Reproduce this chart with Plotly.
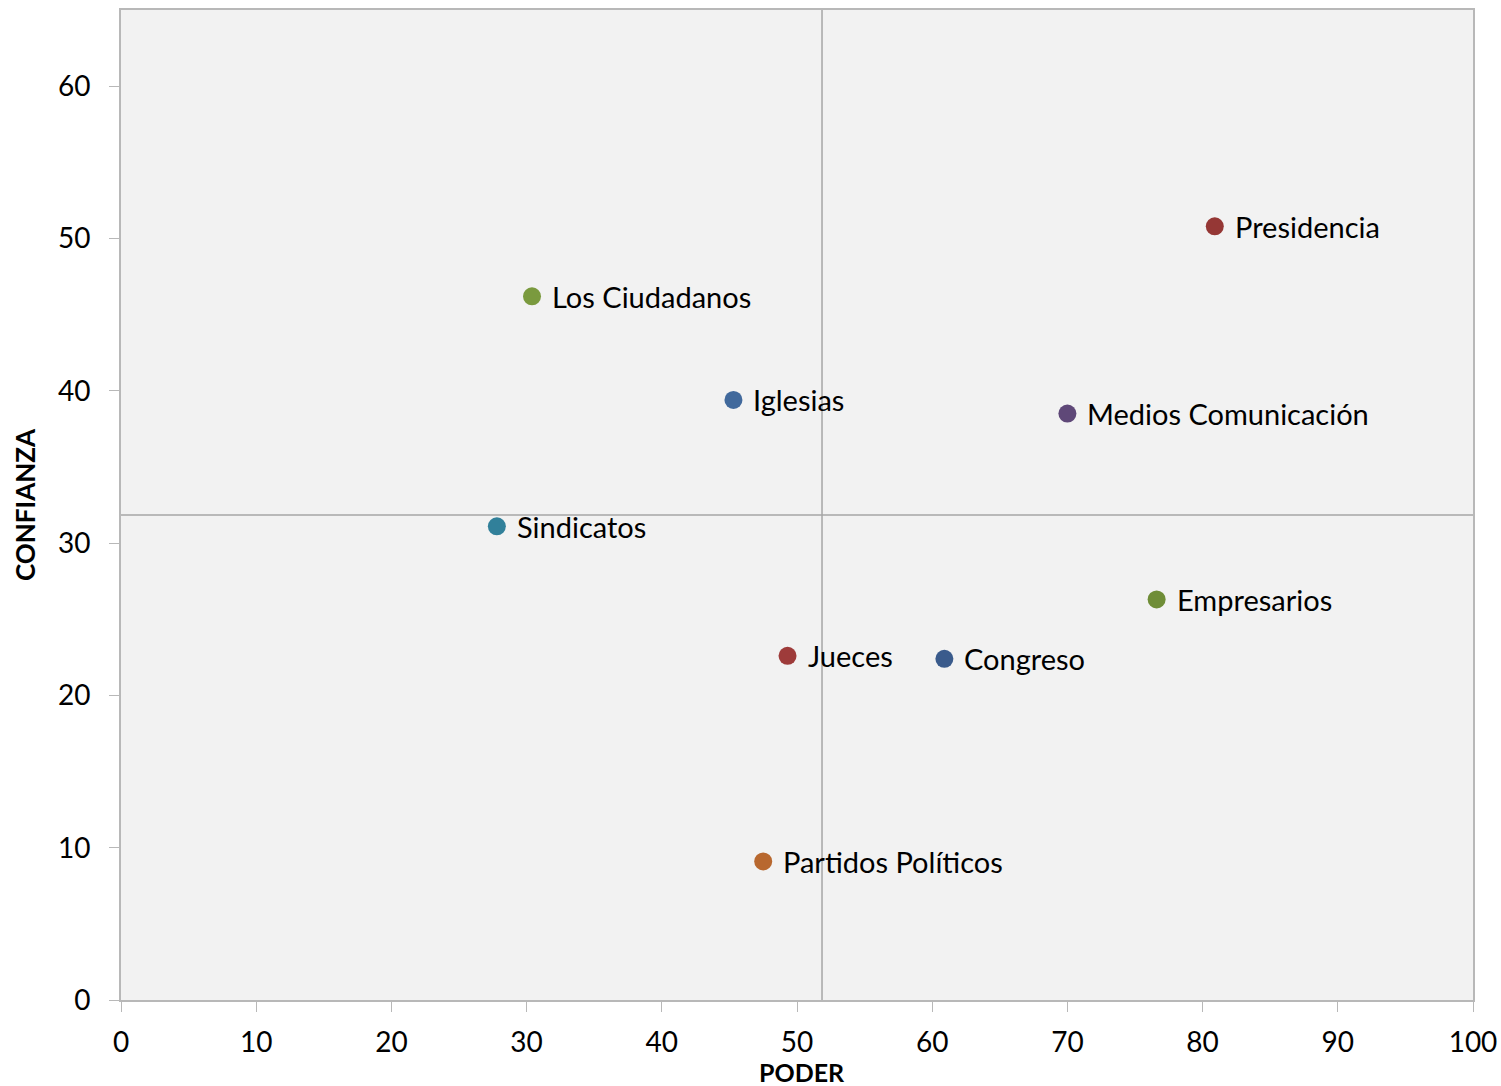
import plotly.graph_objects as go

names = ["Presidencia", "Los Ciudadanos", "Iglesias", "Medios Comunicación", "Sindicatos",
         "Empresarios", "Jueces", "Congreso", "Partidos Políticos"]
poder = [80.9, 30.4, 45.3, 70.0, 27.8, 76.6, 49.3, 60.9, 47.5]
confianza = [50.8, 46.2, 39.4, 38.5, 31.1, 26.3, 22.6, 22.4, 9.1]
colors = ["#953735", "#7A9A3E", "#41699C", "#5F4878", "#31809A",
          "#6F8D37", "#9E3B3A", "#3A5B8C", "#B8682F"]

mean_poder = 51.85
mean_confianza = 31.85

x_ticks = list(range(0, 101, 10))
y_ticks = list(range(0, 61, 10))

FONT = "Lato"

fig = go.Figure()
fig.add_trace(go.Scatter(
    x=poder, y=confianza, mode="markers",
    marker=dict(size=18, color=colors, line=dict(width=0)),
    cliponaxis=False, showlegend=False, hoverinfo="skip",
))

for n, px, py in zip(names, poder, confianza):
    fig.add_annotation(x=px, y=py, xref="x", yref="y", text=n, showarrow=False,
                       xanchor="left", yanchor="middle", xshift=18, yshift=0,
                       font=dict(family=FONT, size=29, color="#000000"))

# x-axis title placed as annotation below tick labels
fig.add_annotation(x=0.5037, y=-72 / 990, xref="paper", yref="paper", text="<b>PODER</b>",
                   showarrow=False, xanchor="center", yanchor="middle",
                   font=dict(family=FONT, size=25, color="#000000"))

fig.add_shape(type="line", xref="x", yref="y", x0=mean_poder, x1=mean_poder, y0=0, y1=65,
              line=dict(color="#a6a6a6", width=1.5), layer="below")
fig.add_shape(type="line", xref="x", yref="y", x0=0, x1=100, y0=mean_confianza, y1=mean_confianza,
              line=dict(color="#a6a6a6", width=1.5), layer="below")

axis_common = dict(showgrid=False, zeroline=False, showline=True, mirror=True,
                   linecolor="#b8b8b8", linewidth=2, ticks="outside", ticklen=10,
                   tickcolor="#b8b8b8", tickwidth=1, automargin=False,
                   tickfont=dict(family=FONT, size=28, color="#000000"))

fig.update_xaxes(range=[0, 100], tickvals=x_ticks, ticktext=[str(v) for v in x_ticks],
                 ticklabelstandoff=6, **axis_common)
fig.update_yaxes(range=[0, 65], tickvals=y_ticks, ticktext=[str(v) for v in y_ticks],
                 ticklabelstandoff=13,
                 title=dict(text="<b>CONFIANZA</b>", font=dict(family=FONT, size=26, color="#000000"), standoff=15),
                 **axis_common)

fig.update_layout(
    width=1501, height=1086,
    margin=dict(l=121, r=28, t=10, b=86),
    plot_bgcolor="#F2F2F2", paper_bgcolor="#FFFFFF",
    font=dict(family=FONT),
)

fig.write_html(
    "out.html",
    config={"displayModeBar": False},
    post_script="document.body.style.margin='0';",
)
